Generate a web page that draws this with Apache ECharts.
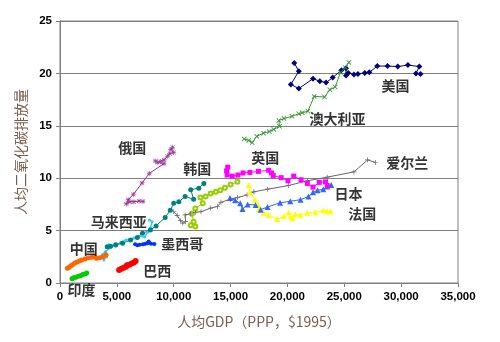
<!DOCTYPE html>
<html><head><meta charset="utf-8">
<script src="https://cdn.jsdelivr.net/npm/echarts@6/dist/echarts.min.js"></script>
<style>html,body{margin:0;padding:0;background:#fff}#c{width:500px;height:342px}</style>
</head><body><div id="c"></div>
<script>
// ---- data: [GDP per capita (PPP, $1995), CO2 per capita] ----
const usa = [[20600,21.0],[21000,20.2],[20300,18.95],[21000,18.55],[22250,19.5],[22850,19.25],[23400,19.13],[23980,19.6],[24750,20.3],[25150,20.5],[25150,19.8],[25350,20.05],[25850,19.9],[26200,19.95],[26800,20.05],[27200,20.1],[27900,20.7],[28800,20.7],[29700,20.65],[30600,20.8],[31600,20.65],[31300,20.0],[31700,19.95]];
const australia = [[16200,13.75],[16600,13.6],[16900,13.4],[17300,14.0],[17900,14.3],[18400,14.45],[18800,14.65],[19300,14.95],[19250,15.5],[19700,15.7],[20400,15.9],[21000,16.15],[21300,16.25],[21800,16.4],[22350,17.8],[23260,17.75],[23730,18.45],[24200,18.7],[24670,20.1],[25100,20.55],[25400,21.05]];
const russia = [[9900,12.95],[9750,12.75],[10000,12.45],[9650,12.35],[9450,12.1],[9150,11.75],[8850,11.6],[8550,11.5],[8400,11.65],[9150,11.4],[7850,10.45],[7220,9.55],[6450,8.45],[6000,7.95],[5830,7.55],[6150,7.75],[6500,7.75],[6950,7.82],[7300,7.78]];
const korea = [[4150,3.45],[4450,3.5],[4900,3.65],[5500,3.8],[6200,4.1],[6800,4.35],[7250,4.75],[7950,5.05],[8450,5.45],[9250,6.25],[9700,6.95],[10000,7.6],[10450,7.75],[11000,8.25],[11750,8.0],[11500,8.9],[12200,9.05],[12650,9.5]];
const malaysia = [[3850,2.2],[4100,2.5],[3700,2.7],[4000,3.0],[4400,3.35],[4300,3.65],[4900,3.5],[5350,3.9],[5800,4.1],[6500,4.3],[6900,4.45],[7450,4.4],[7700,4.85],[7950,5.25],[8100,5.85],[7850,6.0]];
const mexico = [[6600,3.7],[6800,3.6],[7000,3.65],[7300,3.7],[7500,3.75],[7800,3.95],[7700,3.8],[8000,3.75],[8300,3.72]];
const brazil = [[5200,1.25],[5400,1.35],[5600,1.45],[5800,1.55],[5900,1.7],[6100,1.75],[6300,1.85],[6500,1.95],[6650,2.1]];
const china = [[650,1.4],[800,1.5],[950,1.65],[1100,1.75],[1300,1.9],[1500,2.0],[1700,2.1],[1900,2.2],[2200,2.3],[2500,2.4],[2800,2.45],[3000,2.5],[3200,2.35],[3500,2.4],[3800,2.5],[4050,2.7]];
const india = [[1050,0.4],[1200,0.5],[1400,0.55],[1600,0.65],[1800,0.7],[2000,0.8],[2200,0.85],[2350,0.95]];
const other = [[11900,5.4],[11500,5.5],[11750,5.85],[11600,6.6],[11900,7.1],[12550,7.6],[12350,8.15],[12800,8.25],[13250,8.55],[13700,8.7],[14100,8.85],[14500,9.1],[15000,9.4],[15600,9.65]];
const ireland = [[10000,6.8],[10300,6.45],[10600,5.95],[10800,5.7],[11050,5.85],[11000,6.5],[11500,6.6],[11900,6.75],[12400,6.8],[13250,7.15],[13850,7.3],[14150,7.7],[15000,8.0],[15600,8.15],[16450,8.4],[17050,8.7],[18250,8.95],[20100,9.3],[21750,9.75],[23500,10.1],[25850,10.6],[27050,11.75],[27750,11.5]];
const uk = [[14750,11.05],[14650,10.7],[14700,10.3],[15150,10.2],[15650,10.3],[16100,10.5],[16700,10.55],[17450,10.65],[18350,10.75],[18600,10.5],[18750,10.25],[19450,10.05],[20050,9.75],[20550,10.2],[21200,9.85],[21750,9.5],[22250,9.15],[22800,9.6],[23350,9.65],[23500,9.3]];
const japan = [[14950,8.1],[15400,7.9],[15850,7.6],[16050,7.05],[16500,7.5],[17200,7.45],[17650,7.0],[18250,7.25],[19350,7.65],[20250,7.8],[21150,7.95],[21850,8.25],[22250,8.65],[22650,8.85],[23150,8.95],[23500,9.2],[23850,9.35]];
const france = [[16600,9.35],[16700,8.65],[17150,7.95],[17450,7.45],[17500,7.05],[17900,6.7],[18350,6.5],[19100,6.1],[19700,6.4],[20100,6.75],[20300,6.4],[20450,6.15],[20700,6.55],[21150,6.5],[21750,6.7],[22450,6.75],[23150,6.95],[23500,6.85],[23800,6.85]];

// country labels
const labelNames = ['美国','澳大利亚','英国','爱尔兰','日本','法国','俄国','韩国','马来西亚','墨西哥','中国','巴西','印度'];
const labelX = [29500,24400,18060,30530,25370,26570,6350,12065,5170,10745,2090,8545,1890];
const labelY = [18.8,15.65,12.0,11.5,8.55,6.65,12.95,10.95,5.85,3.72,3.31,1.17,-0.67];

const xTicks = {min:0, max:35000, interval:5000};
const yTicks = {min:0, max:25, interval:5};

const X_PATH = 'path://M0,1.2L1.2,0L5,3.8L8.8,0L10,1.2L6.2,5L10,8.8L8.8,10L5,6.2L1.2,10L0,8.8L3.8,5Z';
const PLUS_PATH = 'path://M4.3,0H5.7V4.3H10V5.7H5.7V10H4.3V5.7H0V4.3H4.3Z';
const STAR_PATH = 'path://M4.4,0H5.6V3.6L8.8,0.8L9.6,1.6L6.4,4.4H10V5.6H6.4L9.6,8.4L8.8,9.2L5.6,6.4V10H4.4V6.4L1.2,9.2L0.4,8.4L3.6,5.6H0V4.4H3.6L0.4,1.6L1.2,0.8L4.4,3.6Z';

function ser(data, color, symbol, size, lw){
  return {type:'line', data:data, symbol:symbol, symbolSize:size, showSymbol:true,
    lineStyle:{color:color, width:lw||1}, itemStyle:{color:color},
    animation:false, clip:false, z:3};
}

const chart = echarts.init(document.getElementById('c'), null, {renderer:'canvas'});
const labelData = labelNames.map((n,i)=>({value:[labelX[i], labelY[i]], name:n}));
const tickFont = {fontFamily:'Liberation Sans, Arial, sans-serif', fontWeight:'bold', fontSize:11.5, color:'#000'};
chart.setOption({
  backgroundColor:'#fff',
  animation:false,
  grid:{left:60, right:42, top:21, bottom:59, show:true, borderColor:'#808080', borderWidth:1, backgroundColor:'#fff'},
  xAxis:{type:'value', min:xTicks.min, max:xTicks.max, interval:xTicks.interval,
    name:'人均GDP（PPP，$1995）', nameLocation:'middle', nameGap:32,
    nameTextStyle:{fontFamily:'Noto Sans CJK SC, sans-serif', fontSize:14, color:'#7a5c4c'},
    axisLine:{lineStyle:{color:'#808080', width:1}},
    axisTick:{show:true, length:4, lineStyle:{color:'#808080'}},
    splitLine:{show:false},
    axisLabel:Object.assign({margin:8, formatter:v=>v.toLocaleString('en-US')}, tickFont)},
  yAxis:{type:'value', min:yTicks.min, max:yTicks.max, interval:yTicks.interval,
    name:'人均二氧化碳排放量', nameLocation:'middle', nameGap:32,
    nameTextStyle:{fontFamily:'Noto Sans CJK SC, sans-serif', fontSize:14, color:'#7a5c4c'},
    axisLine:{show:true, lineStyle:{color:'#808080', width:1}},
    axisTick:{show:true, length:4, lineStyle:{color:'#808080'}},
    splitLine:{show:true, lineStyle:{color:'#808080', width:1}},
    axisLabel:Object.assign({margin:8}, tickFont)},
  series:[
    ser(other,'#99CC00','emptyCircle',4,1),
    ser(ireland,'#666666',PLUS_PATH,5,1),
    ser(france,'#FFFF00','triangle',6,1),
    ser(japan,'#3366FF','triangle',6,1),
    ser(uk,'#FF00FF','rect',5,1),
    ser(usa,'#000080','diamond',6,1),
    ser(australia,'#339933',X_PATH,5,1),
    ser(russia,'#993399',STAR_PATH,5,1),
    ser(malaysia,'#33CCFF','circle',3,1.5),
    ser(korea,'#008080','circle',5,1),
    ser(mexico,'#0033FF','circle',4,2.5),
    ser(brazil,'#FF0000','circle',6,3),
    ser(china,'#FF6600','circle',5,3),
    ser(india,'#00CC00','circle',5,3),
    {type:'scatter', data:labelData, symbolSize:0, clip:false, z:10, silent:true,
      label:{show:true, position:'inside', formatter:p=>p.name,
        fontFamily:'Noto Sans CJK SC, sans-serif', fontWeight:'bold', fontSize:14, color:'#000'}}
  ]
});
</script></body></html>
